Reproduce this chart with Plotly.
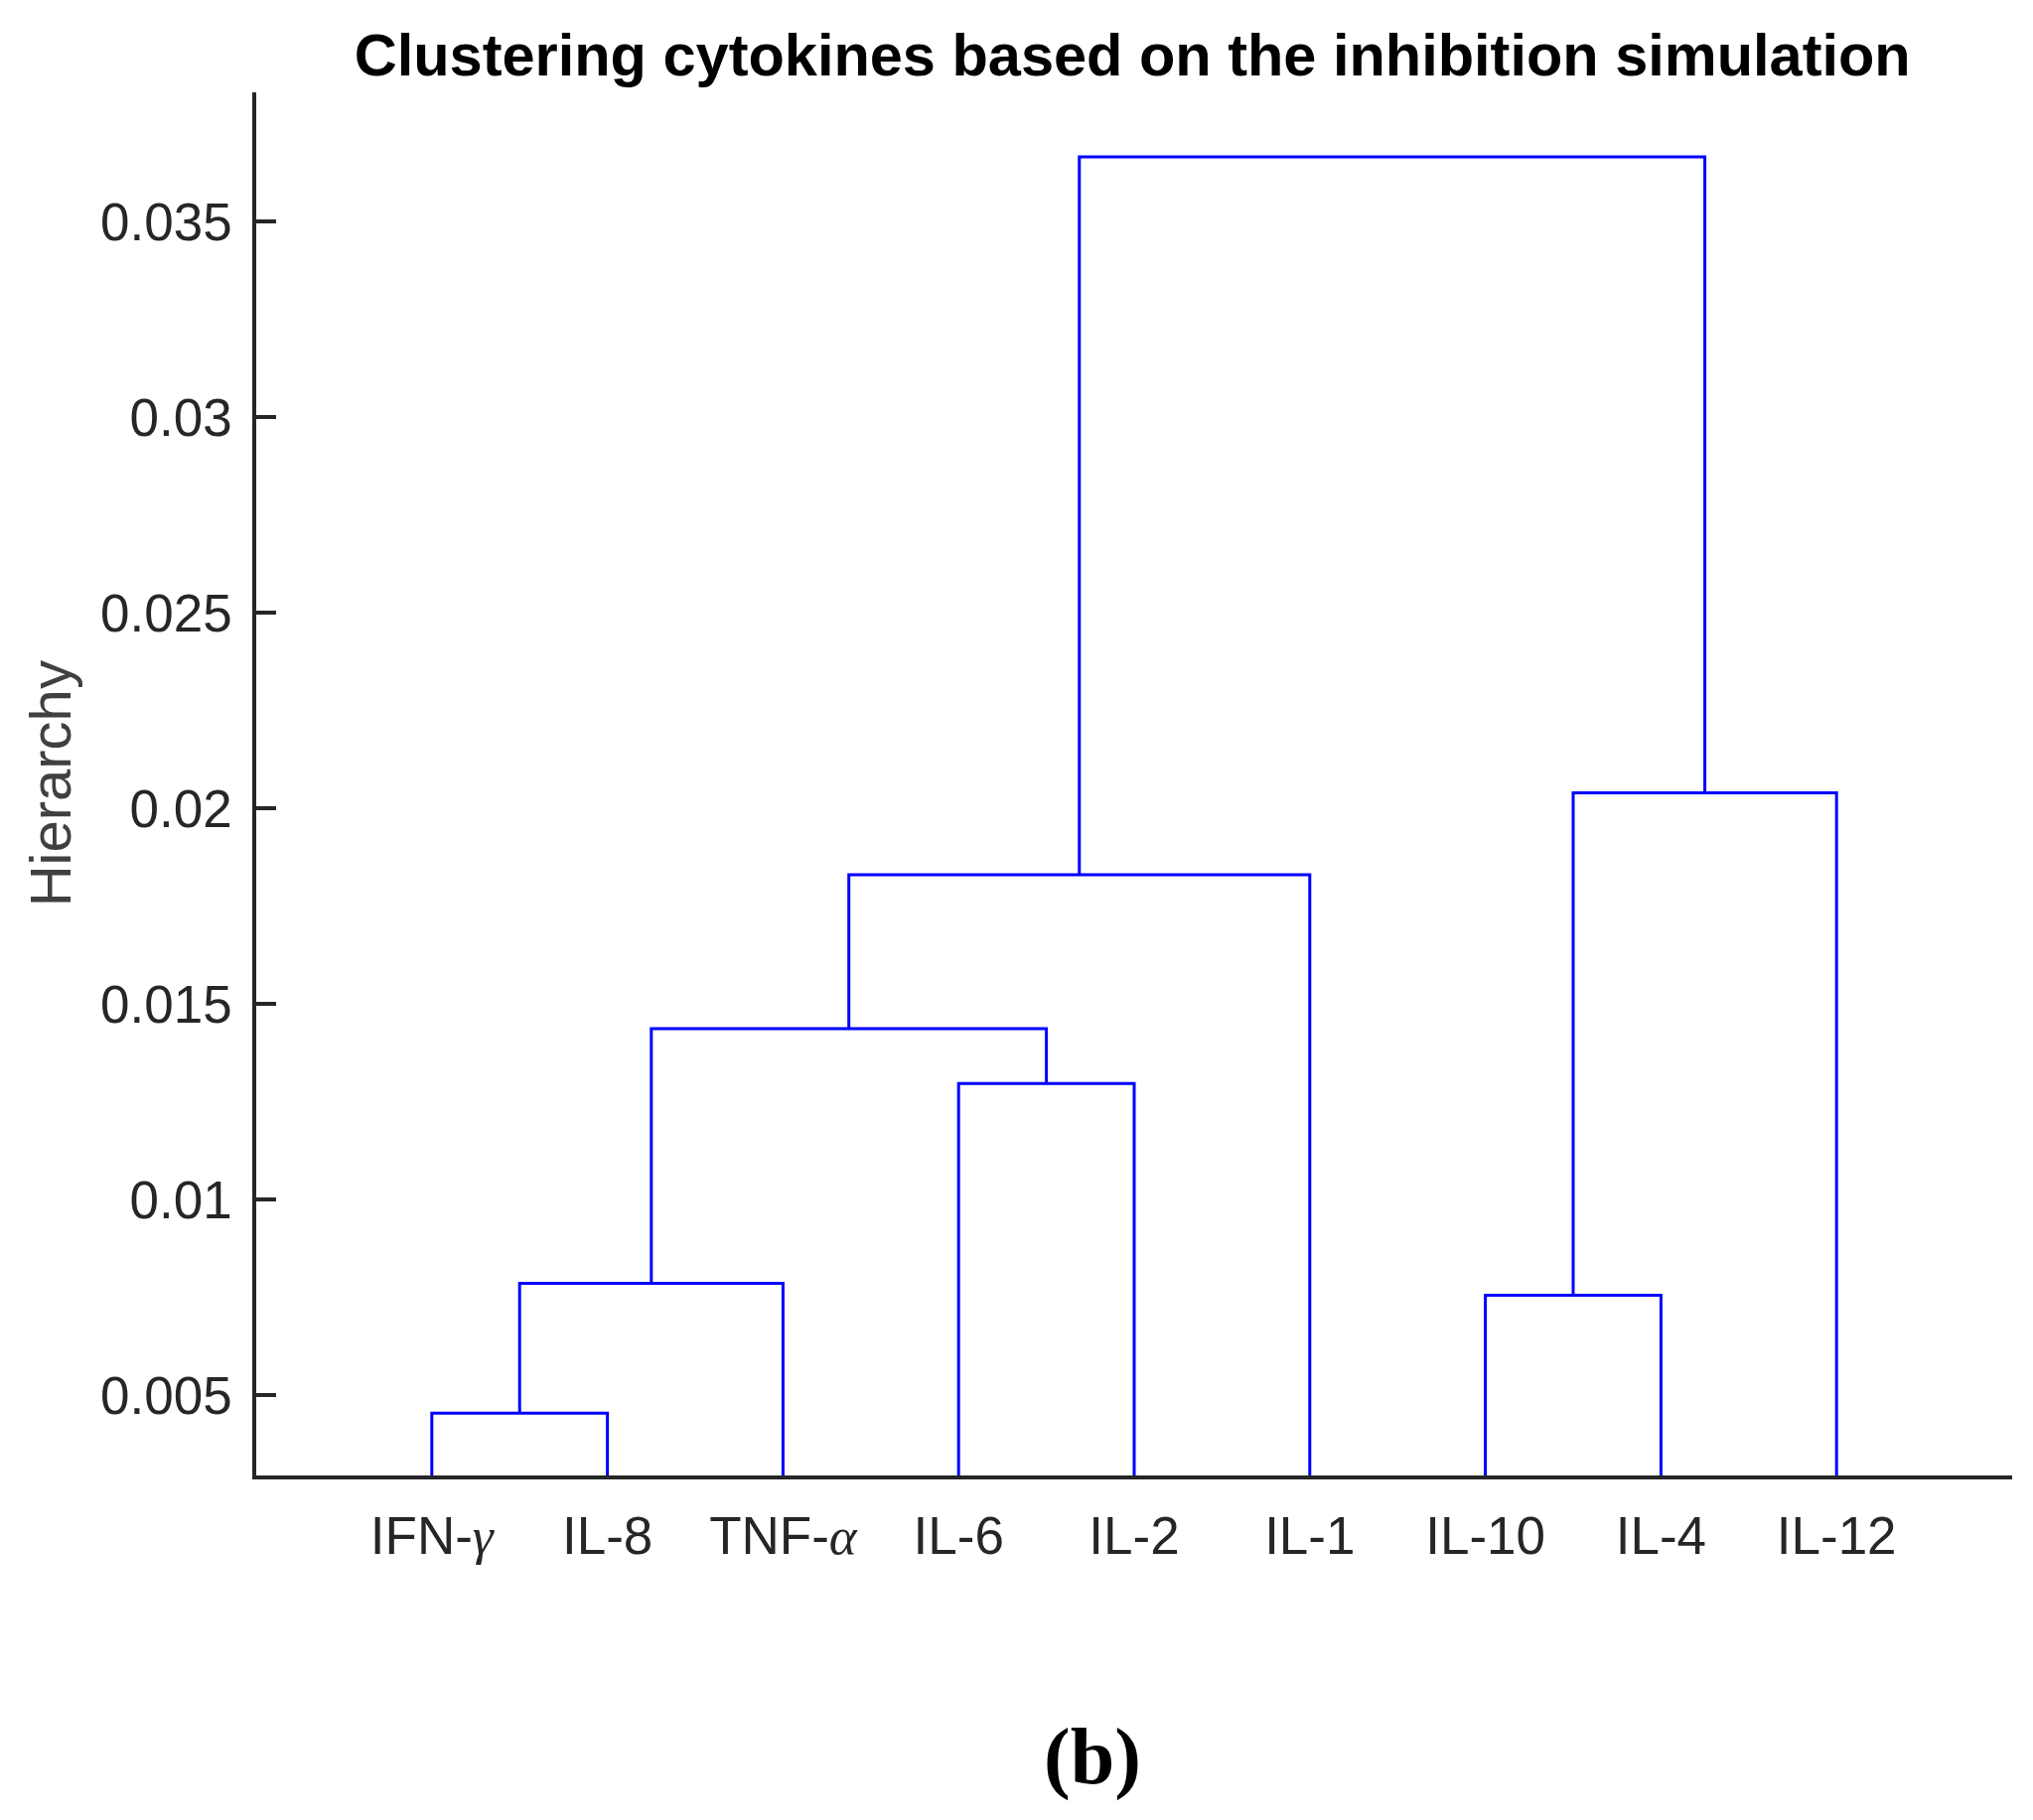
import plotly.graph_objects as go

# leaves in dendrogram order
leaves = ['IFN-<span style="font-family:Liberation Serif"><i>γ</i></span>', 'IL-8',
          'TNF-<span style="font-family:Liberation Serif"><i>α</i></span>', 'IL-6', 'IL-2',
          'IL-1', 'IL-10', 'IL-4', 'IL-12']

# linkage: (left node, right node, height); nodes 0-8 are leaves, 9+ are merges
merge_left = [0, 9, 3, 10, 12, 6, 14, 13]
merge_right = [1, 2, 4, 11, 5, 7, 8, 15]
merge_height = [0.00454, 0.00786, 0.01297, 0.01437, 0.01831, 0.00756, 0.0204, 0.03666]

ytick_vals = [0.005, 0.01, 0.015, 0.02, 0.025, 0.03, 0.035]
ytick_text = ['0.005', '0.01', '0.015', '0.02', '0.025', '0.03', '0.035']

axis_color = '#262626'
link_color = '#0000ff'

# positions of every node: leaves at 1..n, merges centred over their children
pos_x = [i + 1 for i in range(len(leaves))]
pos_y = [0.0] * len(leaves)
xs, ys = [], []
for a, b, h in zip(merge_left, merge_right, merge_height):
    xs += [pos_x[a], pos_x[a], pos_x[b], pos_x[b], None]
    ys += [pos_y[a], h, h, pos_y[b], None]
    pos_x.append((pos_x[a] + pos_x[b]) / 2)
    pos_y.append(h)

fig = go.Figure()
fig.add_trace(go.Scatter(x=xs, y=ys, mode='lines',
                         line=dict(color=link_color, width=3),
                         hoverinfo='skip', showlegend=False))

# page body adds an 8px offset, so the figure is drawn 8px smaller
fig.update_layout(
    width=2039, height=1825,
    margin=dict(l=250, r=21, t=85, b=347),
    paper_bgcolor='white', plot_bgcolor='white',
    font=dict(family='Liberation Sans, Arial', size=53, color=axis_color),
    title=dict(text='<b>Clustering cytokines based on the inhibition simulation</b>',
               font=dict(size=59.5, color='black'),
               x=0.499, xref='paper', xanchor='center',
               y=1 - 47 / 1825, yref='container', yanchor='middle'),
    showlegend=False,
)
fig.update_xaxes(range=[0, 10], tickvals=list(range(1, len(leaves) + 1)),
                 ticktext=leaves, ticks='', showgrid=False, zeroline=False,
                 showline=True, linecolor=axis_color, linewidth=3.5,
                 ticklabelstandoff=12)
fig.update_yaxes(range=[0.00295, 0.03831], tickvals=ytick_vals, ticktext=ytick_text,
                 ticks='inside', ticklen=20, tickwidth=3.5, tickcolor=axis_color,
                 showgrid=False, zeroline=False, showline=True,
                 linecolor=axis_color, linewidth=3.5, ticklabelstandoff=10)

fig.add_annotation(text='Hierarchy', textangle=-90, xref='paper', yref='paper',
                   x=-0.1172, y=0.5, xanchor='center', yanchor='middle',
                   showarrow=False, font=dict(size=58, color='#404040'))
fig.add_annotation(text='<b>(b)</b>', xref='paper', yref='paper',
                   x=0.4765, y=-0.2035, xanchor='center', yanchor='middle',
                   showarrow=False,
                   font=dict(family='Liberation Serif, Times New Roman', size=80,
                             color='black'))

fig.write_html('out.html')
